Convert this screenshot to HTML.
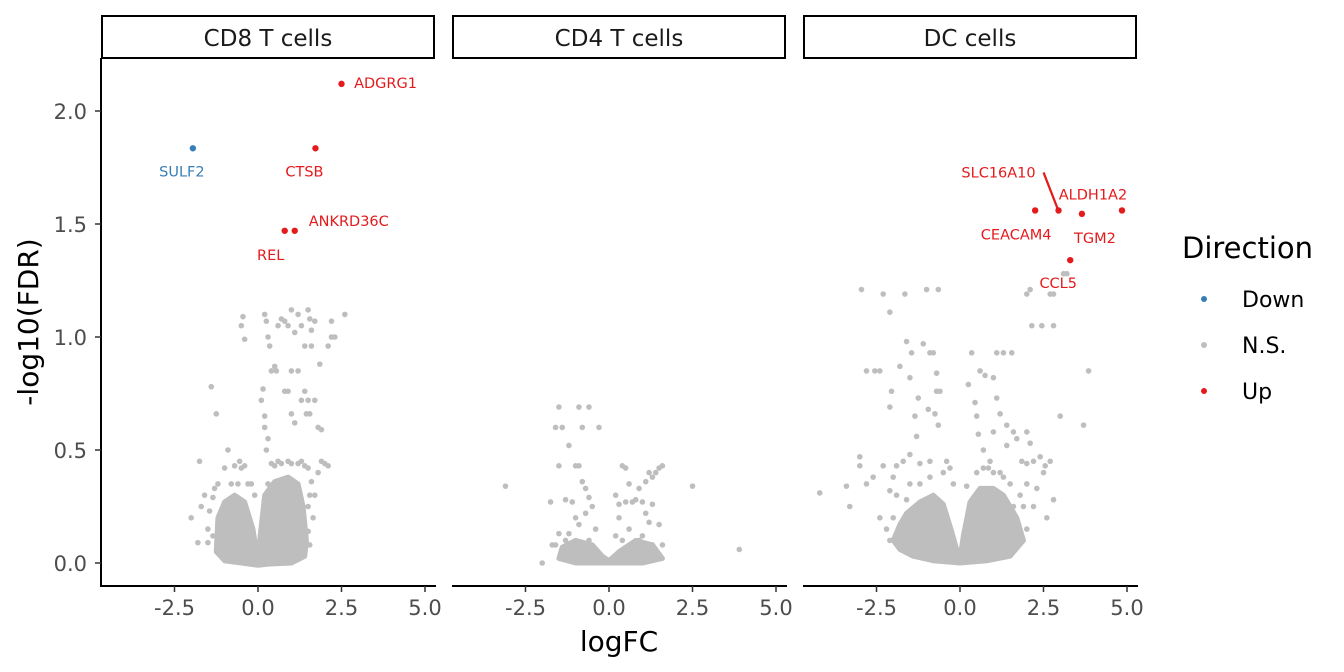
<!DOCTYPE html>
<html><head><meta charset="utf-8"><style>
body{margin:0;background:#fff;}
svg{display:block;font-family:"DejaVu Sans","Liberation Sans",sans-serif;}
</style></head><body>
<svg id="chart" width="1344" height="672"></svg>
<script>
// ---- data ----
const panelNames = ["CD8 T cells","CD4 T cells","DC cells"];
const xTicks = [-2.5,0.0,2.5,5.0];
const xTickLabels = ["-2.5","0.0","2.5","5.0"];
const yTicks = [0,0.5,1.0,1.5,2.0];
const yTickLabels = ["0.0","0.5","1.0","1.5","2.0"];
// dense mass envelope (logFC, upper -log10FDR) and lower edge
const env1Top = [[-1.25,0.05],[-1.2,0.2],[-1.0,0.27],[-0.7,0.3],[-0.4,0.27],[-0.15,0.15],[-0.05,0.05],[0,0.01],[0.05,0.1],[0.2,0.3],[0.5,0.36],[0.9,0.38],[1.2,0.35],[1.35,0.25],[1.45,0.1],[1.4,0.03]];
const env1Bot = [[1.0,0.0],[0.3,-0.005],[0,-0.01],[-0.5,0.0],[-1.0,0.01],[-1.25,0.05]];
const env2Top = [[-1.5,0.02],[-1.4,0.07],[-1.0,0.1],[-0.5,0.08],[-0.2,0.03],[0,0.01],[0.3,0.05],[0.8,0.1],[1.3,0.08],[1.6,0.02]];
const env2Bot = [[1.6,0.02],[1.0,0.0],[0,0.0],[-1.0,0.0],[-1.5,0.02]];
const env3Top = [[-2.0,0.1],[-1.8,0.17],[-1.6,0.22],[-1.2,0.27],[-0.8,0.3],[-0.5,0.26],[-0.25,0.14],[-0.08,0.05],[0,0.02],[0.1,0.12],[0.3,0.27],[0.6,0.33],[1.0,0.33],[1.3,0.3],[1.7,0.2],[1.9,0.1]];
const env3Bot = [[1.9,0.1],[1.5,0.03],[0.8,0.01],[0,0.0],[-0.8,0.01],[-1.4,0.03],[-1.8,0.06],[-2.0,0.1]];
const ns1 = [[-1.4,0.78],[-1.25,0.66],[-1.75,0.45],[-2.0,0.2],[-1.8,0.09],[-0.5,1.05],[-0.45,1.09],[-0.4,0.99],[-0.55,0.45],[0.1,0.72],[0.15,0.77],[0.2,1.1],[0.25,1.07],[0.3,1.0],[0.35,0.96],[0.4,0.85],[0.5,0.87],[0.55,0.85],[0.6,1.05],[0.7,1.08],[0.8,1.07],[0.9,1.05],[1.0,1.12],[1.1,1.02],[1.2,1.1],[1.3,1.05],[1.5,1.12],[1.55,1.08],[1.6,1.03],[1.7,1.07],[1.4,0.96],[1.6,0.96],[1.0,0.85],[1.2,0.85],[0.8,0.76],[0.9,0.76],[1.4,0.76],[1.7,0.72],[1.5,0.72],[1.3,0.72],[1.0,0.66],[1.1,0.62],[1.45,0.66],[1.55,0.66],[1.85,0.88],[1.8,0.6],[1.9,0.59],[2.1,0.96],[2.2,1.0],[2.3,1.0],[2.2,1.07],[2.6,1.1],[0.2,0.65],[0.2,0.6],[0.3,0.55],[0.25,0.5],[-0.9,0.5],[-0.7,0.43],[-1.0,0.42],[-0.3,0.35],[2.0,0.44],[1.9,0.45],[2.1,0.43],[1.8,0.4],[1.5,0.42],[1.2,0.44],[-1.6,0.3],[-1.7,0.25],[-1.5,0.15],[1.7,0.3],[1.65,0.2],[0.6,0.45],[0.9,0.45],[0.4,0.44],[0.5,0.43],[0.7,0.44],[1.0,0.44],[1.3,0.45],[1.4,0.43],[-1.3,0.33],[-1.35,0.29],[-1.2,0.35],[-0.8,0.35],[-0.6,0.35],[-0.5,0.42],[-0.4,0.43],[-1.45,0.23],[-1.5,0.09],[-1.35,0.12],[1.6,0.36],[1.55,0.3],[1.5,0.25],[1.5,0.14],[1.55,0.08],[1.35,0.07],[-0.2,0.35],[-0.1,0.3],[0.3,0.35]];
const ns2 = [[-3.1,0.34],[-2.0,0.0],[-1.7,0.08],[-1.6,0.08],[-1.75,0.27],[-1.6,0.6],[-1.5,0.69],[-1.4,0.6],[-1.2,0.52],[-0.9,0.69],[-0.6,0.69],[-0.8,0.6],[-0.3,0.6],[-1.5,0.43],[-1.0,0.43],[-0.9,0.43],[-0.8,0.36],[-0.7,0.33],[-0.6,0.29],[-1.3,0.28],[-1.1,0.27],[-1.0,0.2],[-0.5,0.25],[-1.2,0.13],[-0.9,0.17],[-0.4,0.15],[0.4,0.43],[0.5,0.42],[0.6,0.35],[0.9,0.33],[1.1,0.36],[1.2,0.4],[1.3,0.38],[1.4,0.4],[1.5,0.42],[1.6,0.43],[0.8,0.28],[1.0,0.27],[1.3,0.26],[0.2,0.3],[0.3,0.26],[0.5,0.27],[0.7,0.27],[0.3,0.2],[0.6,0.15],[1.2,0.18],[1.5,0.17],[0.9,0.1],[1.6,0.08],[2.5,0.34],[3.9,0.06],[1.3,0.08],[0.4,0.1],[-1.5,0.13],[-1.1,0.08],[-0.7,0.22],[1.1,0.22],[-1.3,0.1],[-0.6,0.1],[0.2,0.12],[1.0,0.12]];
const ns3 = [[-4.2,0.31],[-3.4,0.34],[-3.3,0.25],[-3.0,0.47],[-3.0,0.43],[-2.95,1.21],[-2.3,1.19],[-2.1,1.11],[-2.8,0.85],[-2.55,0.85],[-2.4,0.85],[-2.05,0.76],[-2.1,0.69],[-1.8,0.87],[-1.6,0.98],[-1.45,0.93],[-1.5,0.82],[-1.25,0.73],[-1.35,0.65],[-1.1,0.97],[-0.9,0.93],[-0.95,0.68],[-0.8,0.93],[-0.7,0.84],[-0.7,0.76],[-0.6,0.76],[-0.65,1.21],[-1.0,1.21],[-1.65,1.19],[-0.75,0.66],[-0.65,0.61],[-1.3,0.56],[-1.5,0.48],[-1.7,0.45],[-1.9,0.43],[-2.3,0.43],[-2.6,0.38],[-2.8,0.35],[-2.1,0.32],[-2.0,0.38],[-1.2,0.44],[-0.4,0.45],[-0.3,0.42],[-0.2,0.35],[0.2,0.34],[0.35,0.93],[0.45,0.71],[0.5,0.65],[0.25,0.79],[0.6,0.85],[0.75,0.83],[0.55,0.57],[0.85,0.42],[1.0,0.82],[1.1,0.73],[1.2,0.66],[1.3,0.93],[1.55,0.93],[1.1,0.93],[1.0,0.58],[1.4,0.52],[1.6,0.58],[1.7,0.55],[0.7,0.5],[1.4,0.61],[1.85,0.45],[2.0,0.44],[2.2,0.45],[2.4,0.47],[2.55,0.43],[2.7,0.45],[2.0,0.35],[2.3,0.33],[2.5,0.4],[2.8,0.28],[2.6,0.2],[2.2,0.25],[2.0,0.58],[2.1,0.53],[2.0,1.19],[2.1,1.21],[2.8,1.19],[2.7,1.19],[2.15,1.05],[2.45,1.05],[2.8,1.05],[3.1,1.28],[3.2,1.28],[3.0,0.65],[3.7,0.61],[3.85,0.85],[1.5,0.35],[1.2,0.4],[0.9,0.45],[-0.5,0.4],[-0.9,0.45],[-1.5,0.35],[-1.6,0.28],[-2.4,0.2],[-2.0,0.2],[1.8,0.3],[1.6,0.25],[-2.2,0.15],[-2.1,0.1],[-1.9,0.3],[-1.2,0.35],[-0.9,0.38],[0.5,0.4],[0.7,0.42],[1.0,0.4],[1.3,0.38],[2.0,0.15],[1.9,0.25]];
// significant genes: [panel, logFC, -log10FDR, name, direction, labelDx, labelDy]
const sigGenes = [
 [0,-1.95,1.835,"SULF2","Down",-11,23],
 [0,1.72,1.835,"CTSB","Up",-11,23],
 [0,2.5,2.12,"ADGRG1","Up",44,-1],
 [0,1.1,1.47,"ANKRD36C","Up",54,-10],
 [0,0.8,1.47,"REL","Up",-14,24],
 [2,2.95,1.56,"SLC16A10","Up",-60,-38],
 [2,2.25,1.56,"CEACAM4","Up",-19,24],
 [2,3.65,1.545,"TGM2","Up",13,24],
 [2,4.85,1.56,"ALDH1A2","Up",-29,-16],
 [2,3.3,1.34,"CCL5","Up",-12,23]
];
// ---- layout ----
const svg=document.getElementById('chart');
const NS="http://www.w3.org/2000/svg";
function mk(tag,attrs,parent){const e=document.createElementNS(NS,tag);for(const k in attrs)e.setAttribute(k,attrs[k]);(parent||svg).appendChild(e);return e;}
const panelLeft=[101,452,803], panelW=334, plotTop=58, plotBot=586;
const zeroOff=157, pxPerUnit=33.4;
function xs(p,v){return panelLeft[p]+zeroOff+v*pxPerUnit;}
function ys(v){return 563-v*226;}
const colors={Down:"#377eb8",Up:"#e41a1c",NS:"#bebebe"};
const envTops=[env1Top,env2Top,env3Top], envBots=[env1Bot,env2Bot,env3Bot], nsData=[ns1,ns2,ns3];
for(let p=0;p<3;p++){
  const strip=mk('rect',{x:panelLeft[p]+1,y:16,width:panelW-2,height:42,fill:"#fff",stroke:"#000","stroke-width":2});
  
  
  const st=mk('text',{x:panelLeft[p]+panelW/2,y:46,"text-anchor":"middle","font-size":23,fill:"#1a1a1a"});
  st.textContent=panelNames[p];
  
  
  const pts=envTops[p].concat(envBots[p]).map(d=>xs(p,d[0])+","+ys(d[1])).join(" ");
  const poly=mk('polygon',{points:pts,fill:"#bebebe",stroke:"#bebebe","stroke-width":5,"stroke-linejoin":"round"});
  
  
  nsData[p].forEach(d=>{
    const c=mk('circle',{cx:xs(p,d[0]),cy:ys(d[1]),r:2.8,fill:colors.NS});
    
    
  });
  const ax=mk('line',{x1:panelLeft[p],x2:panelLeft[p]+panelW+1,y1:plotBot,y2:plotBot,stroke:"#000","stroke-width":2});
  
  
  xTicks.forEach((t,i)=>{
    mk('line',{x1:xs(p,t),x2:xs(p,t),y1:plotBot,y2:plotBot+6,stroke:"#333","stroke-width":1.5});
    const tl=mk('text',{x:xs(p,t),y:615,"text-anchor":"middle","font-size":21,fill:"#4d4d4d"});
    tl.textContent=xTickLabels[i];
    
    
  });
}
const yax=mk('line',{x1:101,x2:101,y1:plotTop,y2:plotBot+1,stroke:"#000","stroke-width":2});


yTicks.forEach((t,i)=>{
  mk('line',{x1:95,x2:101,y1:ys(t),y2:ys(t),stroke:"#333","stroke-width":1.5});
  const tl=mk('text',{x:87,y:ys(t)+8,"text-anchor":"end","font-size":21,fill:"#4d4d4d"});
  tl.textContent=yTickLabels[i];
  
  
});
sigGenes.forEach(g=>{
  const [p,x,y,name,dir,dx,dy]=g;
  const cx=xs(p,x), cy=ys(y);
  if(name==="SLC16A10"){mk('line',{x1:cx-1,y1:cy-2,x2:cx-15,y2:cy-38,stroke:colors.Up,"stroke-width":2.2});}
  const c=mk('circle',{cx:cx,cy:cy,r:3.2,fill:colors[dir]});
  
  
  const t=mk('text',{x:cx+dx,y:cy+dy+5,"text-anchor":"middle","font-size":14.5,fill:colors[dir]});
  t.textContent=name;
  
  
});
const xt=mk('text',{x:619,y:651,"text-anchor":"middle","font-size":28,fill:"#000"});
xt.textContent="logFC";


const yt=mk('text',{x:0,y:0,"text-anchor":"middle","font-size":28,fill:"#000",transform:"translate(38,322) rotate(-90)"});
yt.textContent="-log10(FDR)";


const lt=mk('text',{x:1182,y:258,"font-size":29,fill:"#000"});
lt.textContent="Direction";


const legendLabels=["Down","N.S.","Up"], legendColors=[colors.Down,colors.NS,colors.Up];
legendLabels.forEach((l,i)=>{
  const y=299+i*46;
  const c=mk('circle',{cx:1204,cy:y,r:3,fill:legendColors[i]});
  
  
  const t=mk('text',{x:1242,y:y+8,"font-size":22,fill:"#000"});
  t.textContent=l;
  
  
});
</script>
</body></html>
